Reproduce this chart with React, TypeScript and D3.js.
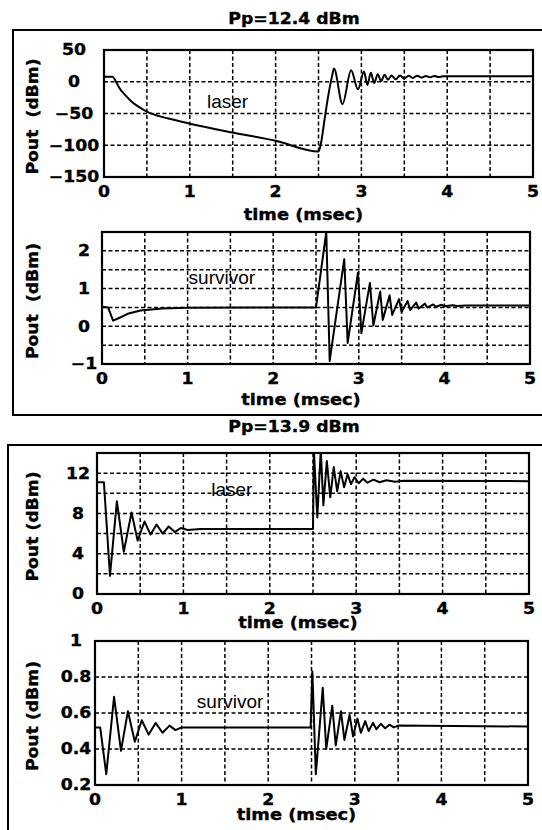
import React, { useEffect, useRef } from "react";
import * as d3 from "d3";

// ---- data ----
// Pp = 12.4 dBm, laser output (dBm)
const laser124T = [0, 0.1, 0.14, 0.18, 0.24, 0.32, 0.41, 0.5, 0.57, 0.75, 1.0, 1.5, 2.0, 2.5, 2.53, 2.57, 2.61, 2.66, 2.68, 2.78, 2.88, 2.96, 3.03, 3.07, 3.11, 3.15, 3.19, 3.23, 3.27, 3.31, 3.35, 3.4, 3.45, 3.5, 3.55, 3.6, 3.65, 3.7, 3.75, 3.8, 3.85, 3.9, 3.95, 4.0, 5.0];
const laser124P = [8, 8, 0, -10, -20, -31, -40, -47, -51, -58, -66, -80, -93, -110, -96, -60, -25, 10, 21, -35, 18, -12, 16, -5, 14, -2, 12, 1, 11, 3, 10, 4, 10, 5, 9.5, 6, 9.5, 6.5, 9, 7, 9, 7.5, 8.5, 8.5, 8.5];

// Pp = 12.4 dBm, survivor output (dBm)
const surv124T = [0, 0.07, 0.13, 0.2, 0.3, 0.45, 0.7, 1.0, 2.5, 2.62, 2.66, 2.83, 2.87, 2.99, 3.03, 3.13, 3.17, 3.25, 3.28, 3.36, 3.39, 3.47, 3.5, 3.57, 3.6, 3.67, 3.7, 3.77, 3.8, 3.87, 3.9, 3.97, 4.0, 4.1, 4.15, 4.25, 5.0];
const surv124P = [0.52, 0.5, 0.15, 0.22, 0.33, 0.42, 0.47, 0.49, 0.5, 2.5, -0.92, 1.78, -0.44, 1.42, -0.18, 1.15, 0.02, 0.92, 0.17, 0.82, 0.3, 0.72, 0.38, 0.67, 0.43, 0.63, 0.47, 0.6, 0.5, 0.58, 0.52, 0.57, 0.53, 0.56, 0.54, 0.55, 0.55];

// Pp = 13.9 dBm, laser output (dBm)
const laser139T = [0, 0.08, 0.15, 0.23, 0.31, 0.4, 0.47, 0.55, 0.62, 0.69, 0.76, 0.83, 0.9, 0.97, 1.05, 1.2, 2.5, 2.51, 2.55, 2.59, 2.62, 2.66, 2.7, 2.74, 2.78, 2.82, 2.86, 2.9, 2.94, 2.98, 3.03, 3.08, 3.13, 3.2, 3.27, 3.35, 3.45, 3.55, 5.0];
const laser139P = [11.1, 11.1, 1.8, 9.2, 4.2, 8.1, 5.3, 7.2, 5.9, 6.9, 6.0, 6.7, 6.15, 6.55, 6.35, 6.45, 6.45, 14.3, 7.6, 14.3, 8.8, 13.2, 9.6, 12.6, 10.2, 12.2, 10.6, 11.9, 10.9, 11.6, 11.0, 11.45, 11.05, 11.35, 11.1, 11.3, 11.15, 11.25, 11.2];

// Pp = 13.9 dBm, survivor output (dBm)
const surv139T = [0, 0.06, 0.13, 0.22, 0.3, 0.38, 0.46, 0.54, 0.62, 0.7, 0.78, 0.86, 0.93, 1.0, 2.49, 2.51, 2.55, 2.63, 2.67, 2.74, 2.78, 2.84, 2.88, 2.94, 2.98, 3.03, 3.07, 3.12, 3.16, 3.21, 3.25, 3.3, 3.35, 3.4, 3.45, 3.5, 5.0];
const surv139P = [0.52, 0.52, 0.26, 0.69, 0.39, 0.61, 0.44, 0.56, 0.48, 0.545, 0.49, 0.53, 0.505, 0.52, 0.52, 0.83, 0.26, 0.74, 0.4, 0.64, 0.42, 0.61, 0.45, 0.59, 0.47, 0.57, 0.49, 0.555, 0.5, 0.545, 0.51, 0.54, 0.515, 0.535, 0.52, 0.53, 0.525];

// ticks
const xTicks = [0, 1, 2, 3, 4, 5];
const xGrid = [0.5, 1, 1.5, 2, 2.5, 3, 3.5, 4, 4.5];
const yTicksA = [50, 0, -50, -100, -150];
const yGridA = [0, -50, -100];
const yTicksB = [2, 1, 0, -1];
const yGridB = [2, 1.5, 1, 0.5, 0, -0.5];
const yTicksC = [12, 8, 4, 0];
const yGridC = [12, 10, 8, 6, 4, 2];
const yTicksD = [1, 0.8, 0.6, 0.4, 0.2];
const yGridD = [0.8, 0.6, 0.4];

const titles = ["Pp=12.4 dBm", "Pp=13.9 dBm"];

const W = 542;
const H = 830;
const BOLD = "'DejaVu Sans', sans-serif";
const SX = 1.15; // the scanned lettering is wide

const fmt = (v: number) => (v < 0 ? "\u2212" + Math.abs(v) : String(v));

const panels = [
  { t: laser124T, p: laser124P, yDomain: [-150, 50], yTicks: yTicksA, yGrid: yGridA, left: 104, right: 533, top: 50, bottom: 177, tickX: 74, label: "laser", lt: 1.44, lp: -30, curve: d3.curveMonotoneX, xlabY: 214, ylab: "Pout  (dBm)" },
  { t: surv124T, p: surv124P, yDomain: [-1, 2.5], yTicks: yTicksB, yGrid: yGridB, left: 102, right: 530, top: 232, bottom: 364, tickX: 84, label: "survivor", lt: 1.4, lp: 1.3, curve: d3.curveLinear, xlabY: 399, ylab: "Pout  (dBm)" },
  { t: laser139T, p: laser139P, yDomain: [0, 14], yTicks: yTicksC, yGrid: yGridC, left: 97, right: 529, top: 453, bottom: 594, tickX: 78, label: "laser", lt: 1.56, lp: 10.4, curve: d3.curveLinear, xlabY: 622, ylab: "Pout (dBm)" },
  { t: surv139T, p: surv139P, yDomain: [0.2, 1], yTicks: yTicksD, yGrid: yGridD, left: 95, right: 528, top: 641, bottom: 785, tickX: 76, label: "survivor", lt: 1.56, lp: 0.665, curve: d3.curveLinear, xlabY: 814, ylab: "Pout (dBm)" },
];

const App = () => {
  const svgRef = useRef<SVGSVGElement>(null);

  useEffect(() => {
    const svg = d3.select(svgRef.current);
    svg.selectAll("*").remove();

    svg.append("rect").attr("width", W).attr("height", H).attr("fill", "#fff");

    const boldText = (x: number, y: number, s: string, size: number, rot = 0) =>
      svg
        .append("text")
        .attr("transform", `translate(${x},${y}) rotate(${rot}) scale(${SX},1)`)
        .attr("text-anchor", "middle")
        .attr("dy", "0.36em")
        .attr("font-family", BOLD)
        .attr("font-weight", "bold")
        .attr("font-size", size)
        .attr("fill", "#000")
        .attr("stroke", "#000")
        .attr("stroke-width", 0.35)
        .style("white-space", "pre")
        .text(s);

    // outer frames round each pair of plots
    svg.append("rect").attr("x", 13).attr("y", 30).attr("width", 560).attr("height", 385)
      .attr("fill", "none").attr("stroke", "#000").attr("stroke-width", 2);
    svg.append("rect").attr("x", 8).attr("y", 445).attr("width", 560).attr("height", 420)
      .attr("fill", "none").attr("stroke", "#000").attr("stroke-width", 2);

    boldText(294, 19, titles[0], 15);
    boldText(294, 427, titles[1], 15);

    panels.forEach((pn, i) => {
      const x = d3.scaleLinear().domain([0, 5]).range([pn.left, pn.right]);
      const y = d3.scaleLinear().domain(pn.yDomain).range([pn.bottom, pn.top]);
      const g = svg.append("g");

      const clipId = `clip-${i}`;
      g.append("clipPath").attr("id", clipId).append("rect")
        .attr("x", pn.left).attr("y", pn.top)
        .attr("width", pn.right - pn.left).attr("height", pn.bottom - pn.top);

      // grid
      g.append("g").selectAll("line").data(xGrid).join("line")
        .attr("x1", (d) => x(d)).attr("x2", (d) => x(d))
        .attr("y1", pn.top).attr("y2", pn.bottom)
        .attr("stroke", "#000").attr("stroke-width", 1.5).attr("stroke-dasharray", "4,2.5");
      g.append("g").selectAll("line").data(pn.yGrid).join("line")
        .attr("x1", pn.left).attr("x2", pn.right)
        .attr("y1", (d) => y(d)).attr("y2", (d) => y(d))
        .attr("stroke", "#000").attr("stroke-width", 1.5).attr("stroke-dasharray", "4,2.5");

      // curve
      const line = d3.line<number>()
        .x((d, j) => x(pn.t[j]))
        .y((d) => y(d))
        .curve(pn.curve);
      g.append("path").datum(pn.p)
        .attr("clip-path", `url(#${clipId})`)
        .attr("d", line)
        .attr("fill", "none").attr("stroke", "#000").attr("stroke-width", 2)
        .attr("stroke-linejoin", "round");

      // frame
      g.append("rect").attr("x", pn.left).attr("y", pn.top)
        .attr("width", pn.right - pn.left).attr("height", pn.bottom - pn.top)
        .attr("fill", "none").attr("stroke", "#000").attr("stroke-width", 2.2);

      // in-plot label
      g.append("text")
        .attr("x", x(pn.lt)).attr("y", y(pn.lp))
        .attr("text-anchor", "middle").attr("dy", "0.36em")
        .attr("font-family", "'Liberation Sans', Arial, sans-serif")
        .attr("font-size", 19).attr("fill", "#000")
        .text(pn.label);

      // tick labels
      xTicks.forEach((v) => boldText(x(v), pn.bottom + 15, String(v), 15));
      pn.yTicks.forEach((v) => boldText(pn.tickX, y(v), fmt(v), 15));

      // axis titles
      boldText((pn.left + pn.right) / 2 - 15, pn.xlabY, "time (msec)", 15.5);
      boldText(33, (pn.top + pn.bottom) / 2 + 3, pn.ylab, 15, -90);
    });
  }, []);

  return (
    <svg
      ref={svgRef}
      width={W}
      height={H}
      style={{ position: "absolute", left: 0, top: 0 }}
    />
  );
};

export default App;
